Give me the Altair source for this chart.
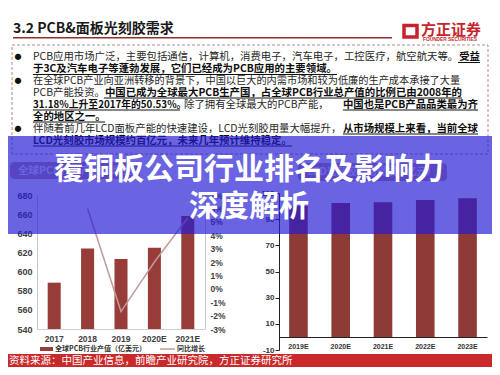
import altair as alt
import pandas as pd

# ---------------- data ----------------
PCB_YEARS = ["2017", "2018", "2019", "2020E", "2021E"]
PCB_OUTPUT = [588.4, 624.0, 613.1, 625.0, 658.0]
PCB_GROWTH = [None, 6.0, -1.7, 2.0, 5.3]
PCB_Y_TICKS = [540, 560, 580, 600, 620, 640, 660, 680]
PCB_PCT_TICKS = [-3, -2, -1, 0, 1, 2, 3, 4, 5, 6, 7]

LCD_YEARS = ["2019E", "2020E", "2021E", "2022E", "2023E"]
LCD_MARKET = [100.0, 102.3, 103.0, 104.6, 106.0]
LCD_Y_TICKS = [-10, 10, 30, 50, 70, 90, 110]

HEADER_TITLE = "3.2 PCB&面板光刻胶需求"
LOGO_CN = "方正证券"
LOGO_EN = "FOUNDER SECURITIES"
OVERLAY_LINES = ["覆铜板公司行业排名及影响力", "深度解析"]
FOOTER_TEXT = "资料来源：中国产业信息，前瞻产业研究院，方正证券研究所"
LEGEND_BAR = "全球PCB行业产值（亿美元）"
LEGEND_LINE = "同比增长"
LEFT_BOX_TEXT = "全球PCB行业产值及增速"
RIGHT_BOX_TEXT = "LCD光刻胶市场规模（亿元）"

BULLET_LINES = [
    [("PCB应用市场广泛，主要包括通信，计算机，消费电子，汽车电子，工控医疗，航空航天等。", False), ("受益", True)],
    [("于3C及汽车电子等蓬勃发展，它们已经成为PCB应用的主要领域。", True)],
    [("在全球PCB产业向亚洲转移的背景下，中国以巨大的内需市场和较为低廉的生产成本承接了大量", False)],
    [("PCB产能投资。", False), ("中国已成为全球最大PCB生产国，占全球PCB行业总产值的比例已由2008年的", True)],
    [("31.18%上升至2017年的50.53%。", True), ("除了拥有全球最大的PCB产能，", False), ("中国也是PCB产品品类最为齐", True)],
    [("全的地区之一。", True)],
    [("伴随着前几年LCD面板产能的快速建设，LCD光刻胶用量大幅提升，", False), ("从市场规模上来看，当前全球", True)],
    [("LCD光刻胶市场规模约百亿元，未来几年预计维持稳定。", True)],
]

# ---------------- layout (reference pixel coords) ----------------
W, H = 484, 359
def px(x):
    return x - 8
def py(y):
    return y - 8

LINE_Y = [57, 69, 81, 92.5, 104.5, 116.5, 128.5, 140.5]
# (start x, end x, align, font size) per segment
SEG_POS = [
    [(33, 456, "left", 10.4), (458, 480, "right", 10.4)],
    [(33, 337, "left", 10.4)],
    [(33, 460, "left", 10.2)],
    [(33, 100, "left", 10.4), (104, 462, "right", 10.4)],
    [(33, 180, "left", 9.8), (184, 340, "left", 10.4), (343, 478, "right", 10.4)],
    [(33, 105, "left", 10.4)],
    [(33, 340, "left", 10.4), (343, 478, "right", 10.4)],
    [(33, 292, "left", 10.4)],
]
BULLET_ROWS = [0, 2, 6]

CJK = "Noto Sans CJK SC"
LAT = "Liberation Sans"
BAR_L = "#973c38"
BAR_R = "#8e3a36"
LINE_C = "#c29a9a"
RED = "#c8232c"

ONE = pd.DataFrame({"k": [0]})


def T(s, x, y, size, weight="normal", color="#262626", align="left",
      font=CJK, opacity=1.0):
    return alt.Chart(ONE).mark_text(
        align=align, baseline="middle", font=font, fontSize=size,
        fontWeight=weight, color=color, opacity=opacity
    ).encode(x=alt.value(px(x)), y=alt.value(py(y)), text=alt.value(s))


def R(x1, y1, x2, y2, fill, opacity=1.0, radius=0):
    return alt.Chart(ONE).mark_rect(
        fill=fill, opacity=opacity, cornerRadius=radius
    ).encode(x=alt.value(px(x1)), x2=alt.value(px(x2)),
             y=alt.value(py(y1)), y2=alt.value(py(y2)))


def BOX(x1, y1, x2, y2, stroke, width, dash=None):
    kw = dict(fillOpacity=0, stroke=stroke, strokeWidth=width, fill="white")
    if dash:
        kw["strokeDash"] = dash
    return alt.Chart(ONE).mark_rect(**kw).encode(
        x=alt.value(px(x1)), x2=alt.value(px(x2)),
        y=alt.value(py(y1)), y2=alt.value(py(y2)))


def L(x1, y1, x2, y2, color, width):
    return alt.Chart(ONE).mark_rule(color=color, strokeWidth=width).encode(
        x=alt.value(px(x1)), x2=alt.value(px(x2)),
        y=alt.value(py(y1)), y2=alt.value(py(y2)))


layers = []

# header
layers.append(T(HEADER_TITLE, 13, 28.5, 14, "bold", "#1a1a1a"))
layers.append(L(13, 37.7, 392, 37.7, "#8c3030", 1.5))
layers.append(BOX(404, 25.5, 417, 37, RED, 3.5))
layers.append(T(LOGO_CN, 421, 29.5, 15, "bold", RED))
layers.append(T(LOGO_EN, 423, 39.5, 4.8, "bold", RED, font=LAT))

# dashed box
layers.append(BOX(12, 45, 488, 154, "#b08a8a", 1, [3, 2]))

# bullets
for r in BULLET_ROWS:
    layers.append(T("●", 18, LINE_Y[r], 7, "normal", "#111", align="center"))
for li, segs in enumerate(BULLET_LINES):
    y = LINE_Y[li]
    for (text, bold), (x0, x1, al, fs) in zip(segs, SEG_POS[li]):
        xx = x0 if al == "left" else x1
        layers.append(T(text, xx, y, fs, "bold" if bold else "normal",
                        "#0d0d0d" if bold else "#262626", align=al))
        if bold:
            layers.append(L(x0, y + 5.5, x1, y + 5.5, "#111", 1))

# chart title boxes
layers.append(R(10, 162, 140, 179, "#c8a0a0", radius=4))
layers.append(T(LEFT_BOX_TEXT, 18, 170.5, 10.5, "bold", "white"))
layers.append(R(298, 163, 447, 181, "#c8a0a0", radius=4))
layers.append(T(RIGHT_BOX_TEXT, 372, 172, 10, "bold", "white", align="center"))

# ---------------- left chart ----------------
df_pcb = pd.DataFrame({"year": PCB_YEARS, "output": PCB_OUTPUT, "growth": PCB_GROWTH})
x_l = alt.X("year:N", sort=PCB_YEARS,
            scale=alt.Scale(domain=PCB_YEARS, range=[px(37), px(205)],
                            paddingInner=0.61, paddingOuter=0.32),
            axis=alt.Axis(orient="bottom", offset=-(H - py(329)), title=None,
                          labelAngle=0, ticks=False, grid=False,
                          domainColor="#d0d0d0", labelFont=LAT,
                          labelFontSize=8.5, labelFontWeight="bold",
                          labelColor="#404040", labelPadding=5))
bars_l = alt.Chart(df_pcb).mark_bar(color=BAR_L).encode(
    x=x_l,
    y=alt.Y("output:Q",
            scale=alt.Scale(domain=[540, 680], range=[py(329), py(195)],
                            zero=False, nice=False),
            axis=alt.Axis(orient="left", offset=-px(37), values=PCB_Y_TICKS,
                          title=None, ticks=False, grid=False,
                          domainColor="#c8c8c8", labelFont=LAT,
                          labelFontSize=9, labelFontWeight="bold",
                          labelColor="#404040", labelPadding=5)),
    y2=alt.datum(540),
)
line_l = alt.Chart(df_pcb).mark_line(color=LINE_C, strokeWidth=1.5).encode(
    x=x_l,
    y=alt.Y("growth:Q",
            scale=alt.Scale(domain=[-3, 7], range=[py(329), py(195)],
                            zero=False, nice=False),
            axis=alt.Axis(orient="right", offset=-(W - px(205)),
                          values=PCB_PCT_TICKS, labelExpr="datum.value + '%'",
                          title=None, ticks=False, grid=False,
                          domainColor="#c8c8c8", labelFont=LAT,
                          labelFontSize=8.5, labelFontWeight="bold",
                          labelColor="#404040", labelPadding=5)),
)
left = alt.layer(bars_l, line_l).resolve_scale(y="independent")

# ---------------- right chart ----------------
df_lcd = pd.DataFrame({"year": LCD_YEARS, "market": LCD_MARKET})
right = alt.Chart(df_lcd).mark_bar(color=BAR_R).encode(
    x=alt.X("year:N", sort=LCD_YEARS,
            scale=alt.Scale(domain=LCD_YEARS, range=[px(279), px(487)],
                            paddingInner=0.56, paddingOuter=0.24),
            axis=alt.Axis(orient="bottom", offset=-(H - py(337)), title=None,
                          labelAngle=0, ticks=False, grid=False,
                          domainColor="#222", labelFont=LAT,
                          labelFontSize=7, labelFontWeight="bold",
                          labelColor="#333", labelPadding=5)),
    y=alt.Y("market:Q",
            scale=alt.Scale(domain=[-10, 110], range=[py(350), py(193)],
                            zero=False, nice=False),
            axis=alt.Axis(orient="left", offset=-px(279), values=LCD_Y_TICKS,
                          labelExpr="'' + datum.value", title=None,
                          ticks=True, tickSize=4, tickColor="#222", grid=False,
                          domainColor="#222", labelFont=LAT,
                          labelFontSize=8, labelFontWeight="bold",
                          labelColor="#333", labelPadding=1)),
    y2=alt.datum(0),
)

layers.append(left)
layers.append(right)

# legend (left chart)
layers.append(L(40, 349, 53, 349, BAR_L, 4))
layers.append(T(LEGEND_BAR, 55, 349, 7, "bold", "#333"))
layers.append(L(160, 349, 175, 349, LINE_C, 1.5))
layers.append(T(LEGEND_LINE, 177, 349, 7, "bold", "#333"))

# footer
layers.append(R(0, 354, 500, 368, "#c9292b"))
layers.append(T(FOOTER_TEXT, 9, 360.5, 10.5, "normal", "white"))

# overlay band + big title
layers.append(R(0, 136, 500, 234, "#241bd4", opacity=0.68))
for s, yy in zip(OVERLAY_LINES, [170, 207]):
    layers.append(T(s, 249, yy, 30, "bold", "white", align="center"))

chart = alt.layer(*layers).resolve_scale(
    x="independent", y="independent"
).properties(
    width=W, height=H, padding=0,
    autosize=alt.AutoSizeParams(type="none"),
).configure_view(stroke=None)

chart.save("out.html", embed_options={"renderer": "svg", "actions": False})
